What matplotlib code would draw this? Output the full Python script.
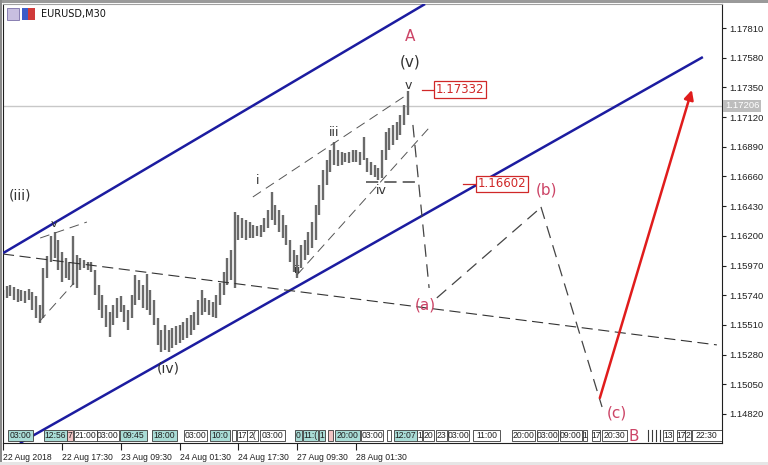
import matplotlib
matplotlib.use('Agg')
import matplotlib.pyplot as plt
import matplotlib.transforms as mtransforms
from matplotlib.patches import Rectangle

# EURUSD bars, one entry per hour (high / low)
highs = [
    1.15781, 1.15812, 1.15819, 1.15804, 1.15788, 1.15781, 1.15773, 1.15788, 1.15765, 1.15734,
    1.15664, 1.15951, 1.16044, 1.16199, 1.16230, 1.16168, 1.16075, 1.16028, 1.15997, 1.16199,
    1.16052, 1.16028, 1.16013, 1.15997, 1.15997, 1.15935, 1.15819, 1.15742, 1.15664, 1.15610,
    1.15664, 1.15719, 1.15734, 1.15664, 1.15626, 1.15742, 1.15897, 1.15858, 1.15819, 1.15905,
    1.15781, 1.15703, 1.15564, 1.15471, 1.15509, 1.15471, 1.15486, 1.15502, 1.15509, 1.15533,
    1.15564, 1.15587, 1.15610, 1.15703, 1.15781, 1.15719, 1.15703, 1.15688, 1.15742, 1.15835,
    1.15920, 1.16028, 1.16090, 1.16385, 1.16362, 1.16338, 1.16323, 1.16307, 1.16284, 1.16276,
    1.16284, 1.16338, 1.16400, 1.16540, 1.16439, 1.16400, 1.16362, 1.16284, 1.16168, 1.16090,
    1.16052, 1.16129, 1.16168, 1.16230, 1.16307, 1.16439, 1.16594, 1.16710, 1.16788, 1.16865,
    1.16927, 1.16865, 1.16849, 1.16842, 1.16849, 1.16865, 1.16865, 1.16849, 1.16966, 1.16803,
    1.16772, 1.16749, 1.16726, 1.16865, 1.17004, 1.17035, 1.17059, 1.17082, 1.17136, 1.17214,
    1.17320]
lows = [
    1.15703, 1.15719, 1.15734, 1.15703, 1.15688, 1.15695, 1.15680, 1.15703, 1.15626, 1.15564,
    1.15525, 1.15564, 1.15873, 1.15997, 1.16028, 1.15935, 1.15843, 1.15873, 1.15858, 1.15819,
    1.15796, 1.15935, 1.15951, 1.15935, 1.15920, 1.15742, 1.15626, 1.15564, 1.15494, 1.15416,
    1.15509, 1.15564, 1.15610, 1.15533, 1.15471, 1.15564, 1.15664, 1.15703, 1.15641, 1.15626,
    1.15587, 1.15509, 1.15355, 1.15300, 1.15316, 1.15300, 1.15331, 1.15355, 1.15370, 1.15393,
    1.15409, 1.15432, 1.15471, 1.15509, 1.15587, 1.15610, 1.15587, 1.15571, 1.15564, 1.15664,
    1.15742, 1.15819, 1.15858, 1.15796, 1.16168, 1.16183, 1.16168, 1.16183, 1.16183, 1.16199,
    1.16191, 1.16230, 1.16261, 1.16323, 1.16284, 1.16230, 1.16183, 1.16129, 1.15997, 1.15920,
    1.15873, 1.15951, 1.16013, 1.16052, 1.16106, 1.16168, 1.16362, 1.16478, 1.16594, 1.16695,
    1.16749, 1.16741, 1.16749, 1.16772, 1.16764, 1.16772, 1.16772, 1.16749, 1.16788, 1.16695,
    1.16671, 1.16656, 1.16633, 1.16648, 1.16788, 1.16865, 1.16904, 1.16942, 1.16981, 1.17059,
    1.17136]

price_ticks = [1.14820, 1.15050, 1.15280, 1.15510, 1.15740, 1.15970, 1.16200,
               1.16430, 1.16660, 1.16890, 1.17120, 1.17350, 1.17580, 1.17810]
time_ticks = [0, 16, 32, 48, 64, 80, 96]
time_labels = ['22 Aug 2018', '22 Aug 17:30', '23 Aug 09:30', '24 Aug 01:30',
               '24 Aug 17:30', '27 Aug 09:30', '28 Aug 01:30']
current_price = 1.17206

# channel / trend lines: (bar, price) endpoints
upper_channel = [(-0.8, 1.16052), (114.7, 1.17996)]
lower_channel = [(4.6, 1.14595), (190.2, 1.17585)]
neckline = [(0.0, 1.16059), (194.0, 1.15355)]
wave_lines = [
    [(10.1, 1.16183), (22.8, 1.16307)],
    [(9.8, 1.15533), (19.3, 1.15835)],
    [(67.9, 1.16501), (110.1, 1.17299)],
    [(79.9, 1.15897), (116.0, 1.17043)],
]
iv_level = [(98.6, 1.16617), (113.3, 1.16617)]
projection = [
    [(111.4, 1.17059), (115.8, 1.15796)],
    [(117.9, 1.15719), (145.4, 1.16400)],
    [(146.2, 1.16424), (162.8, 1.14874)],
]
arrow_from = (162.2, 1.14944)
arrow_to = (187.2, 1.17330)

wave_labels = [('(iii)', 4.6, 1.16509, 10), ('v', 13.9, 1.16292, 8), ('(iv)', 44.8, 1.15176, 10),
               ('i', 69.3, 1.16625, 9), ('ii', 79.9, 1.15935, 8), ('iii', 89.9, 1.17004, 9),
               ('iv', 102.7, 1.16555, 9), ('v', 110.1, 1.17368, 9), ('(v)', 110.6, 1.17547, 11)]
abc_labels = [('A', 110.6, 1.17741), ('(a)', 114.7, 1.15664), ('(b)', 147.6, 1.16555),
              ('(c)', 166.8, 1.14828), ('B', 171.5, 1.14642)]
price_marks = [(1.17332, 113.9, 117.7), (1.16602, 125.0, 129.1)]

# session labels along the bottom (text, start bar, end bar, fill)
CY = '#a9dcd6'
PK = '#f2c4c4'
WH = 'white'
strip = [('03:00', 1.4, 8.2, CY), ('12:56', 11.1, 17.4, CY), ('7', 17.4, 19.0, PK),
         ('21:00', 19.3, 25.5, WH), ('03:00', 25.5, 31.5, WH), ('09:45', 31.8, 39.1, CY),
         ('18:00', 40.5, 47.3, CY), ('03:00', 49.2, 55.4, WH), ('10:0', 56.3, 61.7, CY),
         ('', 62.2, 63.3, WH), ('17', 63.6, 66.3, WH), ('2(', 66.3, 69.3, WH),
         ('03:00', 69.8, 76.6, WH), ('0', 79.3, 81.3, CY), ('11:(', 81.5, 85.6, CY),
         ('1', 85.9, 87.5, CY), ('', 88.3, 89.7, PK), ('20:00', 90.2, 97.0, CY),
         ('03:00', 97.3, 103.3, WH), ('', 104.3, 105.4, WH), ('12:07', 106.3, 112.5, CY),
         ('1', 112.5, 113.9, WH), ('20', 114.1, 117.1, WH), ('23', 117.7, 120.7, WH),
         ('03:00', 120.9, 126.6, WH), ('11:00', 127.7, 135.1, WH), ('20:00', 138.3, 144.6, WH),
         ('03:00', 145.1, 150.8, WH), ('09:00', 151.4, 157.3, WH), ('1', 157.6, 158.7, WH),
         ('17', 160.1, 162.2, WH), ('20:30', 162.8, 169.6, WH), ('13', 179.3, 182.1, WH),
         ('17', 183.2, 185.3, WH), ('2', 185.3, 187.0, WH), ('22:30', 187.2, 195.4, WH)]
strip_ticks = [175.3, 176.4, 177.4, 178.5]

PINK = '#cc4466'
BLUE = '#1c1ca0'
SMALL = ['Liberation Sans', 'DejaVu Sans']

fig = plt.figure(figsize=(7.68, 4.65), dpi=100)
ax = fig.add_axes([3 / 768, 22 / 465, 719 / 768, 439 / 465])
ax.set_xlim(0, 195.4)
ax.set_ylim(1.14595, 1.17996)

# current price line
ax.axhline(current_price, color='#c8c8c8', lw=1, zorder=1)

# bars
ax.vlines(range(len(highs)), lows, highs, color='#6a6a6a', lw=1.7, zorder=2)

# channels
for seg in [upper_channel, lower_channel]:
    ax.plot([p[0] for p in seg], [p[1] for p in seg], color=BLUE, lw=1.8, zorder=3,
            solid_capstyle='butt')
ax.plot([p[0] for p in neckline], [p[1] for p in neckline], color='#333333', lw=0.8,
        dashes=(10, 5), zorder=3)
for seg in wave_lines:
    ax.plot([p[0] for p in seg], [p[1] for p in seg], color='#555555', lw=0.7,
            dashes=(10, 6), zorder=3)
ax.plot([p[0] for p in iv_level], [p[1] for p in iv_level], color='#444444', lw=1.1,
        dashes=(8, 4), zorder=3)
for seg in projection:
    ax.plot([p[0] for p in seg], [p[1] for p in seg], color='#444444', lw=0.9,
            dashes=(10, 6), zorder=3)
ax.annotate('', xy=arrow_to, xytext=arrow_from,
            arrowprops=dict(arrowstyle='-|>', color='#e01c1c', lw=1.8, mutation_scale=14,
                            shrinkA=0, shrinkB=0), zorder=4)

for txt, x, y, fs in wave_labels:
    ax.text(x, y, txt, fontsize=fs, color='#333333', ha='center', va='center', zorder=5)
for txt, x, y in abc_labels:
    ax.text(x, y, txt, fontsize=11, color=PINK, ha='center', va='center', zorder=5)

for price, x0, x1 in price_marks:
    ax.plot([x0, x1], [price, price], color='#d02828', lw=0.9, zorder=5)
    ax.text(x1, price, '%.5f' % price, fontsize=8.5, color='#d02828', ha='left', va='center',
            zorder=6, bbox=dict(boxstyle='square,pad=0.15', facecolor='white',
                                edgecolor='#d02828', lw=0.9))

# bottom session labels
trans = mtransforms.blended_transform_factory(ax.transData, ax.transAxes)
for txt, x0, x1, fc in strip:
    ax.add_patch(Rectangle((x0, 0.005), x1 - x0, 0.025, transform=trans, facecolor=fc,
                           edgecolor='#3a3a3a', lw=0.6, zorder=6))
    ax.text((x0 + x1) / 2, 0.0175, txt, transform=trans, fontsize=6.2, family=SMALL,
            ha='center', va='center', color='#202020', zorder=7)
for x in strip_ticks:
    ax.plot([x, x], [0.005, 0.03], transform=trans, color='#3a3a3a', lw=0.8, zorder=6)

# axes
for s in ax.spines.values():
    s.set_color('#202020')
    s.set_linewidth(0.8)
ax.spines['top'].set_color('#a0a0a0')
ax.yaxis.tick_right()
ax.set_yticks(price_ticks)
ax.set_yticklabels(['%.5f' % v for v in price_ticks], family=SMALL)
ax.tick_params(axis='y', direction='out', length=3, labelsize=6.8, pad=2, colors='#202020')
ax.set_xticks(time_ticks)
ax.set_xticklabels(time_labels, ha='left', family=SMALL)
ax.tick_params(axis='x', direction='out', length=5, labelsize=6.2, pad=2, colors='#202020')

ytrans = mtransforms.blended_transform_factory(ax.transAxes, ax.transData)
ax.text(1.004, current_price, '%.5f' % current_price, transform=ytrans, fontsize=6.8,
        family=SMALL, color='white', ha='left', va='center', zorder=8, clip_on=False,
        bbox=dict(boxstyle='square,pad=0.15', facecolor='#bdbdbd', edgecolor='none'))

# window header
fig.text(41 / 768, 1 - 14 / 465, 'EURUSD,M30', fontsize=7, va='center', color='#111111')
fig.add_artist(Rectangle((7 / 768, 1 - 20 / 465), 12 / 768, 12 / 465, transform=fig.transFigure,
                         facecolor='#c8bfe0', edgecolor='#7a70a8', lw=0.6))
fig.add_artist(Rectangle((22 / 768, 1 - 20 / 465), 6 / 768, 12 / 465, transform=fig.transFigure,
                         facecolor='#3d5cc8', edgecolor='none'))
fig.add_artist(Rectangle((28 / 768, 1 - 20 / 465), 7 / 768, 12 / 465, transform=fig.transFigure,
                         facecolor='#d03a3a', edgecolor='none'))
fig.add_artist(Rectangle((0, 1 - 3 / 465), 1, 3 / 465, transform=fig.transFigure,
                         facecolor='#9a9a9a', edgecolor='none'))
fig.add_artist(Rectangle((0, 0), 2 / 768, 1, transform=fig.transFigure,
                         facecolor='#8a8a8a', edgecolor='none'))
fig.add_artist(Rectangle((0, 0), 1, 3 / 465, transform=fig.transFigure,
                         facecolor='#e6e6e6', edgecolor='none'))

fig.savefig('out.png', dpi=100)
